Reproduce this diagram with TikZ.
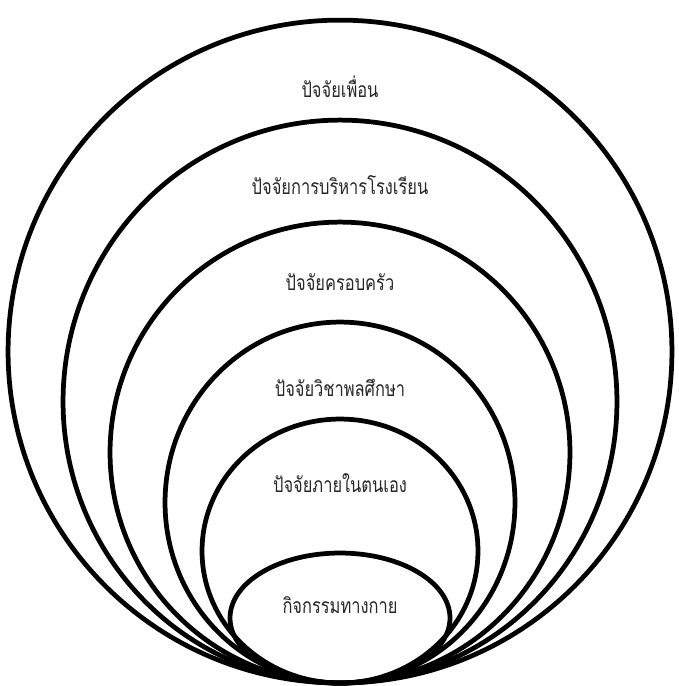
\documentclass[tikz,border=0pt]{standalone}
\usepackage{fontspec}
\newfontfamily\thaifont[Script=Thai,FakeStretch=0.78]{Loma}
\usetikzlibrary{positioning,shapes.geometric}

\begin{document}
\begin{tikzpicture}[
x=0.02cm,y=-0.02cm,
ring/.style={draw,ellipse,line width=2.7pt,outer sep=0pt,inner sep=0pt,anchor=south},
lbl/.style={font=\thaifont\fontsize{12}{14}\selectfont,align=center,text=black!85}
]
\useasboundingbox (0,0) rectangle (679,686);
\coordinate (base) at (340,683);

\node[ring,minimum width=13.28cm,minimum height=13.26cm] (rfriend) at (base) {};
\node[ring,minimum width=11.08cm,minimum height=11.26cm] (rschool) at (base) {};
\node[ring,minimum width=9.2cm,minimum height=9.22cm] (rfamily) at (base) {};
\node[ring,minimum width=7.0cm,minimum height=7.22cm] (rpe) at (base) {};
\node[ring,minimum width=5.52cm,minimum height=5.28cm] (rself) at (base) {};
\node[ring,minimum width=4.4cm,minimum height=2.6cm] (ract) at (base) {};

\node[lbl] (tfriend) at (340,87) {ปัจจัยเพื่อน};
\node[lbl] (tschool) at (340,185) {ปัจจัยการบริหารโรงเรียน};
\node[lbl] (tfamily) at (340,282) {ปัจจัยครอบครัว};
\node[lbl] (tpe) at (340,388) {ปัจจัยวิชาพลศึกษา};
\node[lbl] (tself) at (340,483) {ปัจจัยภายในตนเอง};
\node[lbl] (tact) at (340,605) {กิจกรรมทางกาย};
\end{tikzpicture}
\end{document}
